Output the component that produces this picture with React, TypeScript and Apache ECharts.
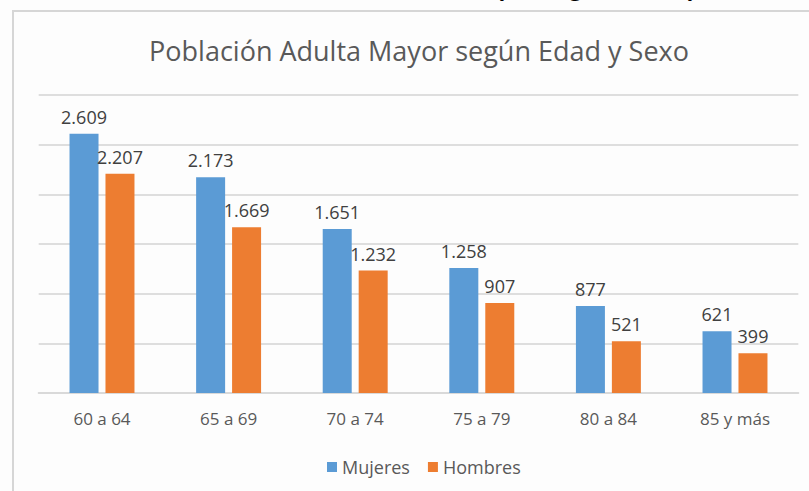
import React, { useEffect, useRef } from "react";
import * as echarts from "echarts";

const categories = ["60 a 64", "65 a 69", "70 a 74", "75 a 79", "80 a 84", "85 y más"];
const mujeres = [2609, 2173, 1651, 1258, 877, 621];
const hombres = [2207, 1669, 1232, 907, 521, 399];
const seriesNames = ["Mujeres", "Hombres"];
const chartTitle = "Población Adulta Mayor según Edad y Sexo";
const headingText = "Población Adulta Mayor según Edad y Sexo";

const FONT = "'Open Sans', Lato, sans-serif";

const fmt = (v: number) => String(v).replace(/\B(?=(\d{3})+(?!\d))/g, ".");

export default function App() {
  const ref = useRef<HTMLDivElement>(null);
  useEffect(() => {
    if (!ref.current) return;
    const chart = echarts.init(ref.current, undefined, { renderer: "svg" });
    const labelCfg = {
      show: true,
      position: "top" as const,
      distance: 8,
      fontSize: 18,
      fontFamily: FONT,
      color: "#404040",
      formatter: (p: any) => fmt(p.value),
    };
    chart.setOption({
      animation: false,
      backgroundColor: "#fdfdfd",
      textStyle: { fontFamily: FONT },
      graphic: [
        {
          type: "line",
          shape: { x1: 13, y1: 11, x2: 13, y2: 491 },
          style: { stroke: "#d6d6d6", lineWidth: 2 },
        },
        {
          type: "line",
          shape: { x1: 12, y1: 11, x2: 809, y2: 11 },
          style: { stroke: "#d6d6d6", lineWidth: 2 },
        },
        {
          type: "text",
          x: 419,
          y: 50,
          style: {
            text: chartTitle,
            fill: "#595959",
            font: `27px ${FONT}`,
            textAlign: "center",
            textVerticalAlign: "middle",
          },
        },
        {
          type: "text",
          x: 506,
          y: -14,
          style: {
            text: headingText,
            fill: "#000000",
            font: `bold 27px Lato, sans-serif`,
            textAlign: "center",
            textVerticalAlign: "middle",
          },
        },
      ],
      legend: {
        data: seriesNames,
        left: 322,
        top: 453,
        icon: "rect",
        itemWidth: 10,
        itemHeight: 10,
        itemGap: 18,
        itemStyle: { borderWidth: 0 },
        textStyle: { fontSize: 18, color: "#595959", fontFamily: FONT },
      },
      grid: { left: 38.7, right: 10.7, top: 95, bottom: 98, containLabel: false },
      xAxis: {
        type: "category",
        data: categories,
        axisTick: { show: false },
        axisLine: { lineStyle: { color: "#d9d9d9", width: 2 } },
        axisLabel: { fontSize: 17, color: "#595959", margin: 17, fontFamily: FONT },
      },
      yAxis: {
        type: "value",
        min: 0,
        max: 3000,
        interval: 500,
        axisLabel: { show: false },
        axisLine: { show: false },
        axisTick: { show: false },
        splitLine: { lineStyle: { color: "#dedede", width: 2 } },
      },
      series: [
        {
          name: seriesNames[0],
          type: "bar",
          data: mujeres,
          barWidth: 29,
          barGap: "24%",
          itemStyle: { color: "#5B9BD5" },
          label: labelCfg,
        },
        {
          name: seriesNames[1],
          type: "bar",
          data: hombres,
          barWidth: 29,
          barGap: "24%",
          itemStyle: { color: "#ED7D31" },
          label: labelCfg,
        },
      ],
    });
    return () => chart.dispose();
  }, []);
  return (
    <div
      ref={ref}
      style={{ position: "fixed", left: 0, top: 0, width: 809, height: 491 }}
    />
  );
}
